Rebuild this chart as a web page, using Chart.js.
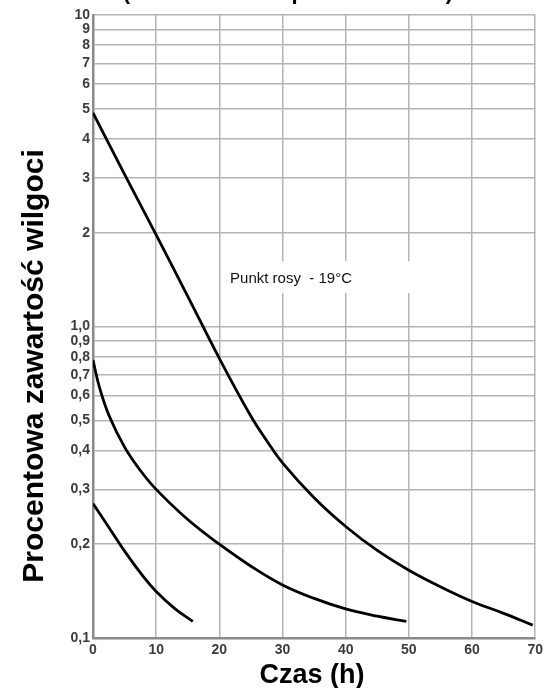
<!DOCTYPE html>
<html>
<head>
<meta charset="utf-8">
<script src="https://cdn.jsdelivr.net/npm/chart.js@4"></script>
<style>
  html, body { margin: 0; padding: 0; background: #fff; }
  #wrap { width: 547px; height: 688px; }
</style>
</head>
<body>
<div id="wrap"><canvas id="chart" width="547" height="688"></canvas></div>
<script>
// hours of drying and moisture content (%)
const hoursTop = [0, 5, 10, 15, 20, 25, 27.5, 30, 35, 40, 45, 50, 55, 60, 65, 69.6];
const moistTop = [4.85, 3.08, 1.97, 1.25, 0.79, 0.515, 0.43, 0.365, 0.282, 0.228, 0.191, 0.165, 0.146, 0.131, 0.12, 0.11];

const hoursMid = [0, 1, 2.5, 5, 7.5, 10, 15, 20, 25, 30, 35, 40, 45, 49.6];
const moistMid = [0.78, 0.64, 0.52, 0.41, 0.345, 0.3, 0.24, 0.2, 0.17, 0.148, 0.134, 0.124, 0.1175, 0.113];

const hoursLow = [0, 2, 5, 8, 10, 13, 15.8];
const moistLow = [0.27, 0.235, 0.19, 0.157, 0.141, 0.124, 0.113];

const yTicks = [0.1, 0.2, 0.3, 0.4, 0.5, 0.6, 0.7, 0.8, 0.9, 1, 2, 3, 4, 5, 6, 7, 8, 9, 10];
const xTicks = [0, 10, 20, 30, 40, 50, 60, 70];

const titleText = '(suszenie w temperaturze 80°C)';
const yTitle = 'Procentowa zawartość wilgoci';
const xTitle = 'Czas (h)';
const noteText = 'Punkt rosy  - 19°C';

function toPoints(xs, ys) {
    return xs.map((x, i) => ({ x: x, y: ys[i] }));
}

function curve(xs, ys) {
    return {
        data: toPoints(xs, ys),
        borderColor: '#000',
        borderWidth: 2.8,
        pointRadius: 0,
        tension: 0.4,
        fill: false
    };
}

const tickFont = { family: "'Liberation Sans Narrow', 'Liberation Sans', Arial", size: 14, weight: 'bold' };

// texts drawn around the plot + the white box behind the note
const extraText = {
    id: 'extraText',
    beforeDatasetsDraw(chart) {
        const ctx = chart.ctx;
        const xs = chart.scales.x, ys = chart.scales.y;
        const left = xs.getPixelForValue(20.5);
        const right = xs.getPixelForValue(50.8);
        const top = ys.getPixelForValue(1.62);
        const bottom = ys.getPixelForValue(1.28);
        ctx.save();
        ctx.fillStyle = '#fff';
        ctx.fillRect(left, top, right - left, bottom - top);
        ctx.fillStyle = '#111';
        ctx.font = "15px 'Liberation Sans', Arial";
        ctx.textBaseline = 'alphabetic';
        ctx.fillText(noteText, xs.getPixelForValue(21.7), ys.getPixelForValue(1.38));
        ctx.restore();
    },
    afterDraw(chart) {
        const ctx = chart.ctx;
        ctx.save();
        ctx.fillStyle = '#000';
        ctx.font = "bold 22px 'Liberation Sans', Arial";
        ctx.textAlign = 'center';
        ctx.textBaseline = 'alphabetic';
        ctx.fillText(titleText, 288, -1);

        ctx.font = "bold 27px 'Liberation Sans', Arial";
        ctx.fillText(xTitle, 312, 683);

        ctx.font = "bold 30px 'Liberation Sans', Arial";
        ctx.translate(43, 366);
        ctx.rotate(-Math.PI / 2);
        ctx.fillText(yTitle, 0, 0);
        ctx.restore();
    }
};

new Chart(document.getElementById('chart'), {
    type: 'line',
    data: {
        datasets: [
            curve(hoursTop, moistTop),
            curve(hoursMid, moistMid),
            curve(hoursLow, moistLow)
        ]
    },
    options: {
        responsive: false,
        animation: false,
        layout: { padding: { left: 0, right: 7, top: 15, bottom: 0 } },
        plugins: {
            legend: { display: false },
            tooltip: { enabled: false }
        },
        scales: {
            x: {
                type: 'linear',
                min: 0,
                max: 70,
                afterBuildTicks(scale) {
                    scale.ticks = xTicks.map(v => ({ value: v }));
                },
                afterFit(scale) { scale.height = 50; },
                grid: { color: '#b4b4b4', lineWidth: 1.5, drawTicks: false },
                border: { color: '#8a8a8a', width: 2.5 },
                ticks: { font: tickFont, color: '#3c3c3c', padding: 4, maxRotation: 0 }
            },
            y: {
                type: 'logarithmic',
                min: 0.1,
                max: 10,
                afterBuildTicks(scale) {
                    scale.ticks = yTicks.map(v => ({ value: v }));
                },
                afterFit(scale) { scale.width = 93; },
                grid: { color: '#b4b4b4', lineWidth: 1.5, drawTicks: false },
                border: { color: '#8a8a8a', width: 2.5 },
                ticks: {
                    font: tickFont,
                    color: '#3c3c3c',
                    padding: 3,
                    autoSkip: false,
                    callback(v) {
                        if (v <= 1) return v.toFixed(1).replace('.', ',');
                        return String(Math.round(v));
                    }
                }
            }
        }
    },
    plugins: [extraText]
});
</script>
</body>
</html>
